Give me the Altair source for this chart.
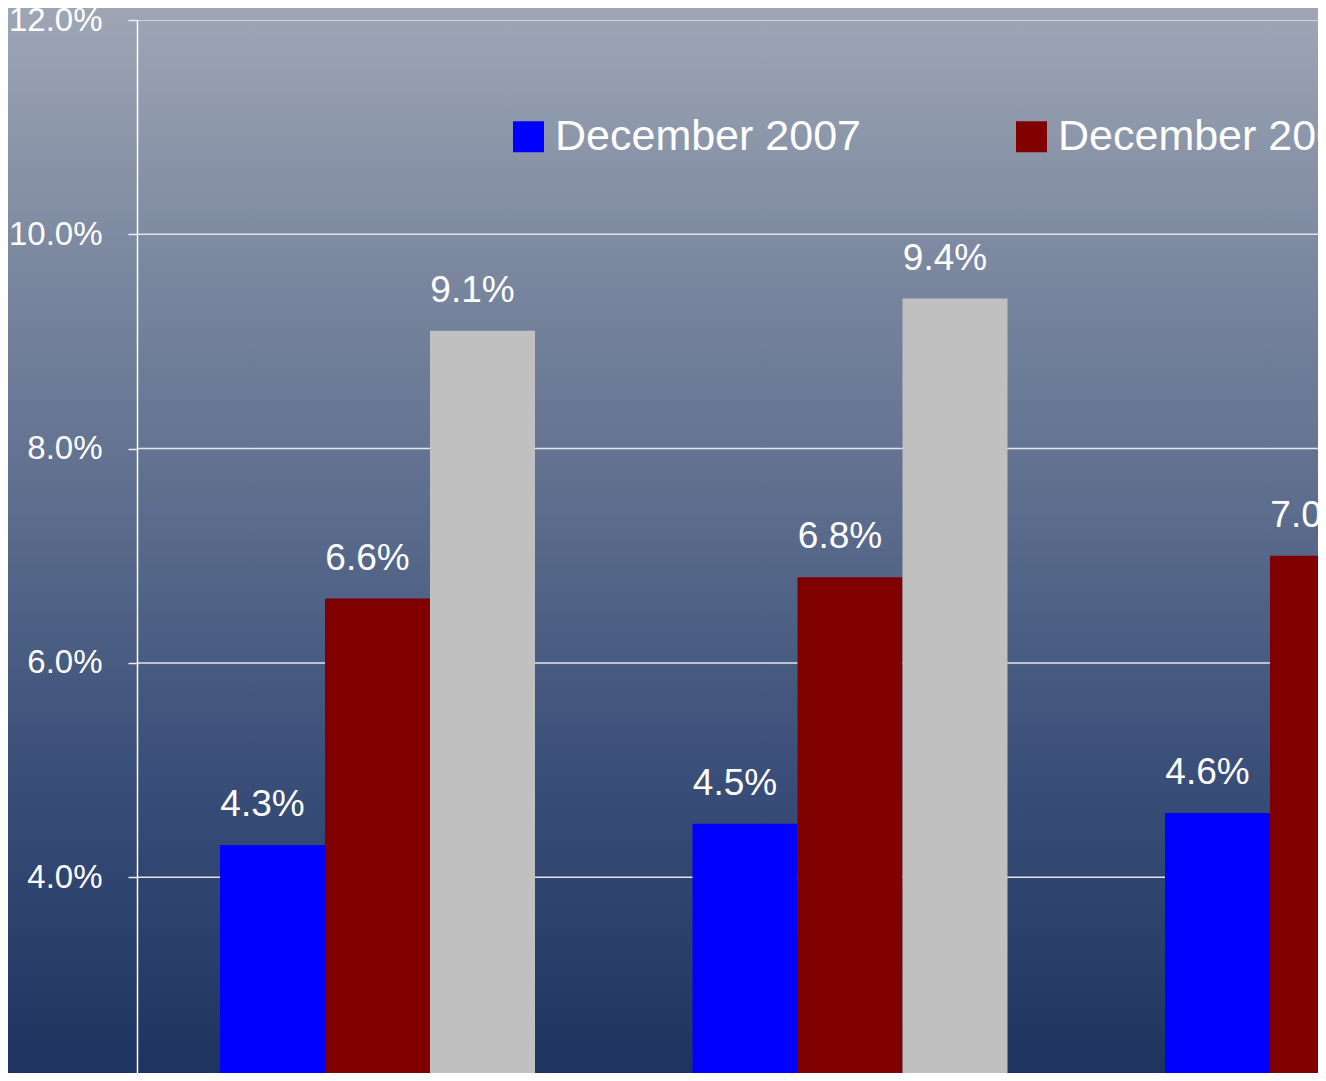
import altair as alt
import pandas as pd

# ---- data ----
groups = ["Group 1", "Group 2", "Group 3"]
series = ["December 2007", "December 2008", "December 2009"]
dec_2007 = [4.3, 4.5, 4.6]
dec_2008 = [6.6, 6.8, 7.0]
dec_2009 = [9.1, 9.4, None]  # third group's value is outside the visible area
series_colors = ["#0000FF", "#800000", "#C0C0C0"]
tick_values = [2, 4, 6, 8, 10, 12]

rows = []
for s, vals in zip(series, [dec_2007, dec_2008, dec_2009]):
    for g, v in zip(groups, vals):
        if v is not None:
            rows.append({"group": g, "series": s, "value": v})
df = pd.DataFrame(rows)
grid_df = pd.DataFrame({"value": tick_values})

W, H = 1181, 1053
Y_MIN, Y_MAX = 12 - H / 107.15, 12
FONT = "Liberation Sans"

bg = alt.Chart(alt.InlineData(values=[{}])).mark_rect(
    color=alt.LinearGradient(
        gradient="linear",
        x1=0, x2=0, y1=0, y2=1,
        stops=[
            alt.GradientStop(color="#9ea6b5", offset=0.0),
            alt.GradientStop(color="#7e8aa1", offset=0.22),
            alt.GradientStop(color="#5c6d8d", offset=0.47),
            alt.GradientStop(color="#394e78", offset=0.72),
            alt.GradientStop(color="#1f3360", offset=1.0),
        ],
    )
).encode(
    x=alt.value(-129), x2=alt.value(W), y=alt.value(-12), y2=alt.value(H)
)

yscale = alt.Scale(domain=[Y_MIN, Y_MAX], nice=False, zero=False)
yaxis = alt.Axis(
    values=tick_values,
    labelExpr="format(datum.value, '.1f') + '%'",
    title=None,
    grid=False,
    domainColor="#ffffff",
    domainWidth=1.5,
    tickColor="#e8ebf0",
    tickSize=9,
    tickWidth=1.5,
    labelColor="#ffffff",
    labelFont=FONT,
    labelFontSize=33,
    labelPadding=26,
    zindex=1,
)
Y = alt.Y("value:Q", scale=yscale, axis=yaxis, title=None)

grid = alt.Chart(grid_df).mark_rule(color="#e2e5eb", strokeWidth=1.5, clip=True).encode(
    y=Y
)

xscale = alt.Scale(range=[83, 1343], paddingInner=1 / 3, paddingOuter=0)
xoff_scale = alt.Scale(domain=series, paddingInner=0, paddingOuter=0)
X = alt.X("group:N", scale=xscale, axis=None, sort=groups)
XO = alt.XOffset("series:N", scale=xoff_scale, sort=series)

bars = alt.Chart(df).mark_bar(clip=True).encode(
    x=X,
    xOffset=XO,
    y=Y,
    color=alt.Color(
        "series:N",
        scale=alt.Scale(domain=series, range=series_colors),
        legend=alt.Legend(
            title=None,
            orient="none",
            direction="horizontal",
            legendX=370,
            legendY=95,
            symbolType="square",
            symbolSize=961,
            symbolStrokeWidth=0,
            symbolOpacity=1,
            labelColor="#ffffff",
            labelFont=FONT,
            labelFontSize=43,
            labelOffset=5,
            columnPadding=149,
            padding=0,
            labelLimit=0,
        ),
    ),
)

labels = alt.Chart(df).transform_calculate(
    label="format(datum.value, '.1f') + '%'"
).mark_text(
    clip=True, color="#ffffff", font=FONT, fontSize=37,
    baseline="alphabetic", dy=-29, dx=-10,
).encode(
    x=X,
    xOffset=XO,
    y=Y,
    text="label:N",
)

chart = alt.layer(bg, grid, bars, labels).properties(
    width=W,
    height=H,
    autosize=alt.AutoSizeParams(type="none"),
    padding={"left": 129, "top": 12, "right": 0, "bottom": 0},
).configure_view(stroke=None).configure(background="#ffffff")

chart.save("out.html", embed_options={"renderer": "svg", "actions": False})
